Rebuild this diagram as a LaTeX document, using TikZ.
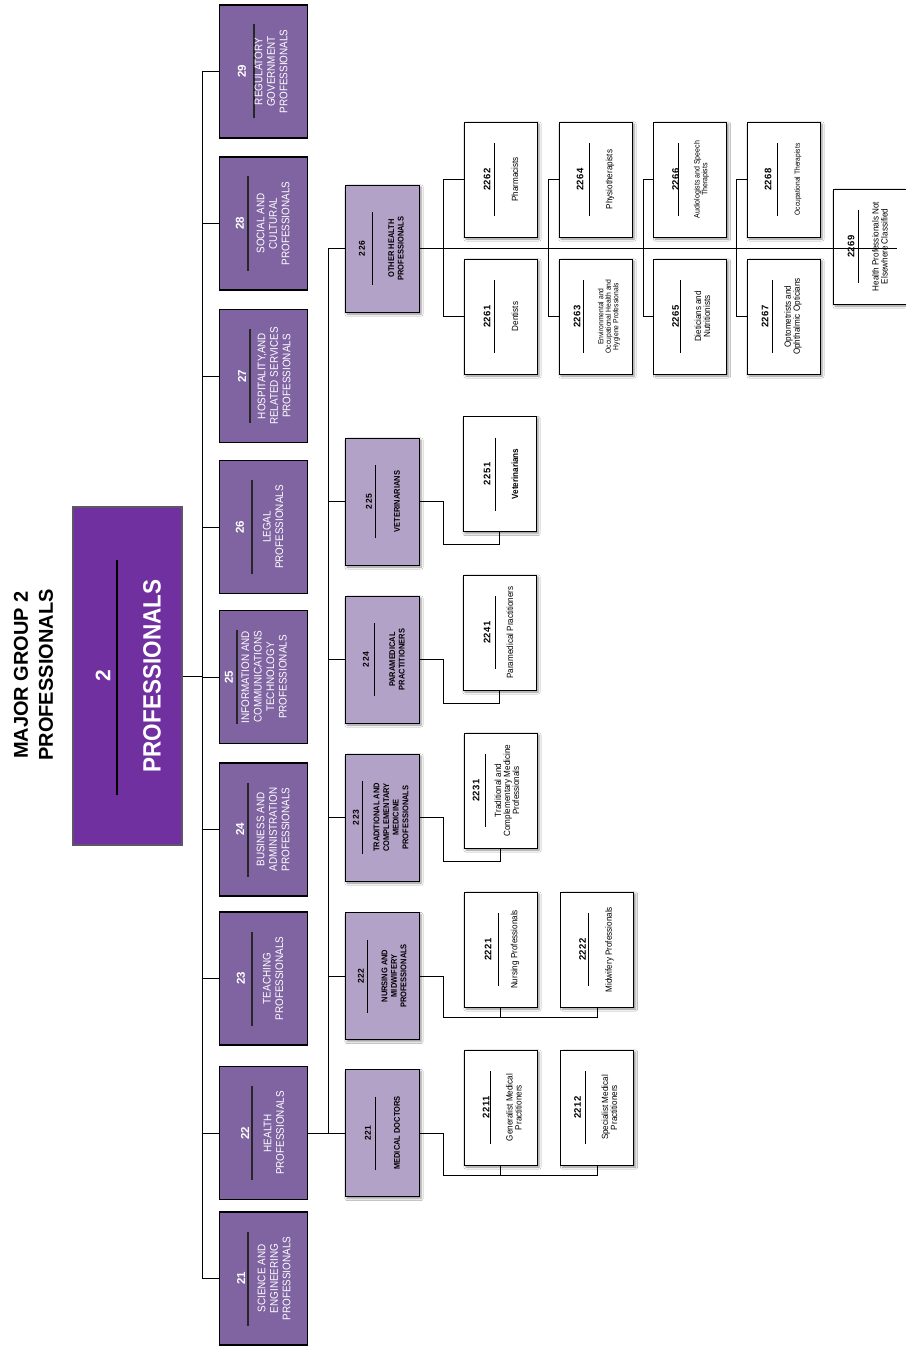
\documentclass[tikz,border=0pt]{standalone}
\usepackage{fontspec}
\setmainfont{Liberation Sans}
\newfontfamily\cond[FakeStretch=0.9]{Liberation Sans}
\usetikzlibrary{shadows.blur}
\definecolor{mainpurple}{RGB}{112,48,160}
\definecolor{lvlone}{RGB}{128,100,162}
\definecolor{lvltwo}{RGB}{179,162,199}
\definecolor{mainedge}{RGB}{95,85,105}
\tikzset{
 conn/.style={draw=black, line width=0.9pt},
 sepmain/.style={draw=black, line width=1.3pt},
 sepone/.style={draw=black!85, line width=1.2pt},
 septwo/.style={draw=black, line width=0.9pt},
 septhree/.style={draw=black, line width=0.9pt},
 mainbox/.style={draw=mainedge, line width=1.4pt, fill=mainpurple, minimum width=109pt, minimum height=338pt, inner sep=0pt},
 boxone/.style={draw=black, line width=1.1pt, fill=lvlone, minimum width=88pt, minimum height=133pt, inner sep=0pt},
 shad/.style={blur shadow={shadow xshift=2pt, shadow yshift=-2pt, shadow blur steps=4, shadow opacity=45}},
 boxtwo/.style={draw=black, line width=0.9pt, fill=lvltwo, minimum width=74pt, minimum height=127pt, inner sep=0pt, shad},
 boxthree/.style={draw=black, line width=0.9pt, fill=white, minimum width=73pt, minimum height=115pt, inner sep=0pt, shad},
 titletxt/.style={rotate=90, inner sep=0pt, align=center, font=\fontsize{20}{25}\selectfont\bfseries},
 nummain/.style={rotate=90, inner sep=0pt, text=white, font=\fontsize{21}{21}\selectfont\bfseries},
 txtmain/.style={rotate=90, inner sep=0pt, text=white, font=\cond\fontsize{25}{25}\selectfont\bfseries},
 numone/.style={rotate=90, inner sep=0pt, text=white, font=\fontsize{11.5}{11.5}\selectfont\bfseries},
 txtone/.style={rotate=90, inner sep=0pt, text=white, align=center, font=\cond\fontsize{11}{12.5}\selectfont},
 numtwo/.style={rotate=90, inner sep=0pt, font=\fontsize{8.5}{8.5}\selectfont\bfseries\addfontfeature{LetterSpace=5}},
 txttwo/.style={rotate=90, inner sep=0pt, align=center, font=\cond\fontsize{8.3}{9.6}\selectfont\bfseries},
 numthree/.style={rotate=90, inner sep=0pt, font=\fontsize{9.5}{9.5}\selectfont\bfseries\addfontfeature{LetterSpace=6}},
 txtthree/.style={rotate=90, inner sep=0pt, align=center},
}
\newcommand\Lone[7]{%
  \node[boxone] (#1) at (263.5,#2) {};
  \node[numone] (#1n) at (#3,#2) {#6};
  \draw[sepone] (#4,{#2-47}) -- (#4,{#2+47});
  \node[txtone] (#1t) at (#5,#2) {#7};
}
\newcommand\Ltwo[7]{%
  \node[boxtwo] (#1) at (382,#2) {};
  \node[numtwo] (#1n) at (#3,#2) {#6};
  \draw[septwo] (#4,{#2-36.5}) -- (#4,{#2+36.5});
  \node[txttwo] (#1t) at (#5,#2) {#7};
}
% name, cx, cy, numoff, lineoff, textoff, num, text, font size
\newcommand\Lthree[9]{%
  \node[boxthree] (#1) at (#2,#3) {};
  \node[numthree] (#1n) at ({#2-36.5+#4},#3) {#7};
  \draw[septhree] ({#2-36.5+#5},{#3-36.5}) -- ({#2-36.5+#5},{#3+36.5});
  \node[txtthree, font=\cond\fontsize{#9}{#9}\selectfont] (#1t) at ({#2-36.5+#6},#3) {#8};
}
\begin{document}
\begin{tikzpicture}[x=1pt,y=-1pt]
\useasboundingbox (0,0) rectangle (905,1351);
\fill[white] (0,0) rectangle (905,1351);

% title
\node[titletxt] (title) at (33.5,675) {MAJOR GROUP 2\\PROFESSIONALS};

% main box
\node[mainbox] (main) at (127.5,676) {};
\node[nummain] (mainn) at (103,676) {2};
\draw[sepmain] (117,560) -- (117,795);
\node[txtmain] (maint) at (152,676) {PROFESSIONALS};

% level 1
\Lone{b29}{71.5}{242}{254}{271}{29}{REGULATORY\\GOVERNMENT\\PROFESSIONALS}
\Lone{b28}{223.5}{240}{248}{273}{28}{SOCIAL AND\\CULTURAL\\PROFESSIONALS}
\Lone{b27}{376}{242}{250}{274}{27}{HOSPITALITY,AND\\RELATED SERVICES\\PROFESSIONALS}
\Lone{b26}{527}{240}{252}{273}{26}{LEGAL\\PROFESSIONALS}
\Lone{b25}{677}{229}{237}{264}{25}{INFORMATION AND\\COMMUNICATIONS\\TECHNOLOGY\\PROFESSIONALS}
\Lone{b24}{829.5}{240}{248}{273}{24}{BUSINESS AND\\ADMINISTRATION\\PROFESSIONALS}
\Lone{b23}{978.5}{241}{252}{273}{23}{TEACHING\\PROFESSIONALS}
\Lone{b22}{1133}{245}{252}{274}{22}{HEALTH\\PROFESSIONALS}
\Lone{b21}{1278.5}{241}{248}{274}{21}{SCIENCE AND\\ENGINEERING\\PROFESSIONALS}

% level 2
\Ltwo{c226}{248.5}{362}{372}{396}{226}{OTHER HEALTH\\PROFESSIONALS}
\Ltwo{c225}{501.5}{369}{375}{397}{225}{VETERINARIANS}
\Ltwo{c224}{659.5}{366}{374}{397}{224}{PARAMEDICAL\\PRACTITIONERS}
\Ltwo{c223}{817.5}{356}{362}{391}{223}{TRADITIONAL AND\\COMPLEMENTARY\\MEDICINE\\PROFESSIONALS}
\Ltwo{c222}{976}{361}{367}{394}{222}{NURSING AND\\MIDWIFERY\\PROFESSIONALS}
\Ltwo{c221}{1133}{368}{375}{397}{221}{MEDICAL DOCTORS}

% level 3
\Lthree{d2262}{500.5}{179.5}{23}{30}{51}{2262}{Pharmacists}{9}
\Lthree{d2261}{500.5}{316.5}{23}{30}{51}{2261}{Dentists}{9}
\Lthree{d2264}{595.5}{179.5}{21}{30}{51}{2264}{Physiotherapists}{9}
\Lthree{d2263}{595.5}{316.5}{18}{24}{50}{2263}{Environmental and\\Occupational Health and\\Hygiene Professionals}{7.5}
\Lthree{d2266}{690}{179.5}{22}{25}{48}{2266}{Audiologists and Speech\\Therapists}{7.8}
\Lthree{d2265}{690}{316.5}{22}{27}{49}{2265}{Dieticians and\\Nutritionists}{9}
\Lthree{d2268}{783.5}{179.5}{21}{30}{51}{2268}{Occupational Therapists}{7.4}
\Lthree{d2267}{783.5}{316.5}{18}{25}{46}{2267}{Optometrists and\\Ophthalmic Opticians}{9}
\Lthree{d2269}{869.5}{246.5}{18}{25}{47}{2269}{Health Professionals Not\\Elsewhere Classified}{9}
\Lthree{d2251}{499.5}{474}{24}{32}{52}{2251}{\bfseries Veterinarians}{9}
\Lthree{d2241}{499.5}{632.5}{24}{32}{47}{2241}{Paramedical Practitioners}{9}
\Lthree{d2231}{500.5}{790.5}{12}{21}{43}{2231}{Traditional and\\Complementary Medicine\\Professionals}{9}
\Lthree{d2221}{500.5}{949.5}{24}{34}{51}{2221}{Nursing Professionals}{9}
\Lthree{d2222}{597}{949.5}{22}{28}{49}{2222}{Midwifery Professionals}{9}
\Lthree{d2211}{500.5}{1107.5}{22}{26}{50}{2211}{Generalist Medical\\Practitioners}{9}
\Lthree{d2212}{597}{1107.5}{17}{25}{49}{2212}{Specialist Medical\\Practitioners}{9}

% level 1 connectors
\coordinate (v1top) at (202,71.5);
\coordinate (v1bot) at (202,1278.5);
\draw[conn] (v1top) -- (v1bot);
\draw[conn] (main.east) -- (main.east -| v1top);
\foreach \b in {b29,b28,b27,b26,b25,b24,b23,b22,b21}
  \draw[conn] (\b.west) -- (\b.west -| v1top);

% level 2 connectors
\coordinate (v2top) at (328,248.5);
\coordinate (v2bot) at (328,1133);
\draw[conn] (v2top) -- (v2bot);
\draw[conn] (b22.east) -- (b22.east -| v2top);
\foreach \c in {c226,c225,c224,c223,c222,c221}
  \draw[conn] (\c.west) -- (\c.west -| v2top);

% level 3 connectors
\draw[conn] (c221.east) -- ++(24,0) |- ([yshift=-10pt]d2212.south) -- (d2212.south);
\draw[conn] ([yshift=-10pt]d2211.south) -- (d2211.south);
\draw[conn] (c222.east) -- ++(24,0) |- ([yshift=-10pt]d2222.south) -- (d2222.south);
\draw[conn] ([yshift=-10pt]d2221.south) -- (d2221.south);
\draw[conn] (c223.east) -- ++(24,0) |- ([yshift=-13pt]d2231.south) -- (d2231.south);
\draw[conn] (c224.east) -- ++(24,0) |- ([yshift=-13pt]d2241.south) -- (d2241.south);
\draw[conn] (c225.east) -- ++(24,0) |- ([yshift=-12pt]d2251.south) -- (d2251.south);

\draw[conn] (d2262.west) -- ++(-20,0) |- (d2261.west);
\draw[conn] (d2264.west) -- ++(-10,0) |- (d2263.west);
\draw[conn] (d2266.west) -- ++(-10,0) |- (d2265.west);
\draw[conn] (d2268.west) -- ++(-10,0) |- (d2267.west);
\draw[conn] (c226.east) -- ([xshift=-9pt]c226.east -| d2269.east);
\end{tikzpicture}
\end{document}
